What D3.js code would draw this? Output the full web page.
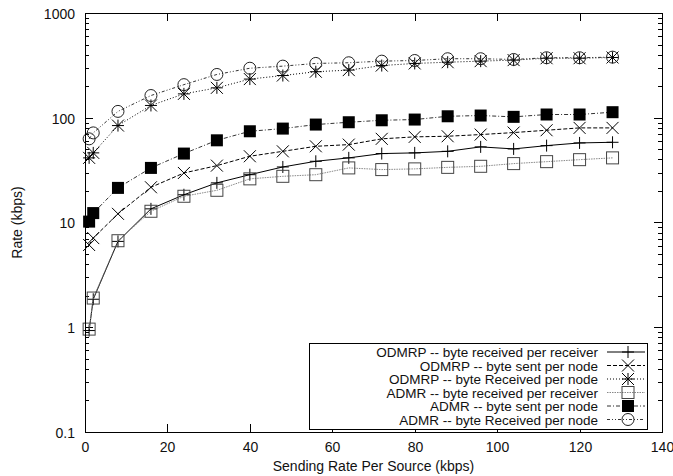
<!DOCTYPE html>
<html>
<head>
<meta charset="utf-8">
<script src="https://cdnjs.cloudflare.com/ajax/libs/d3/7.8.5/d3.min.js"></script>
<style>
  body { margin: 0; background: #fff; }
  text { font-family: "Liberation Sans", Arial, sans-serif; fill: #111; }
</style>
</head>
<body>
<div id="chart"></div>
<script>
var svgWidth = 673;
var svgHeight = 476;

// plot box
var margin = { top: 13, right: 11, bottom: 44, left: 85 };
var width = svgWidth - margin.left - margin.right;
var height = svgHeight - margin.top - margin.bottom;

// data
var xValues = [1, 2, 8, 16, 24, 32, 40, 48, 56, 64, 72, 80, 88, 96, 104, 112, 120, 128];

var odmrpRecvReceiver = [0.93, 1.85, 6.6, 13.5, 18.4, 23.9, 28.6, 33.9, 38.4, 41.4, 45.5, 46.2, 47.8, 52.7, 50.4, 54.2, 57.5, 58.3];
var odmrpSentNode = [6.1, 7.1, 12.1, 21.7, 29.7, 34.9, 42.9, 47.8, 53.4, 55.4, 62.9, 65.7, 66.6, 69.1, 72.2, 76, 80, 80];
var odmrpRecvNode = [41.4, 46.2, 84.2, 131, 169, 193, 234, 253, 275, 285, 315, 330, 339, 347, 355, 370, 370, 376];
var admrRecvReceiver = [0.96, 1.9, 6.7, 12.8, 17.8, 20.3, 26.1, 27.6, 28.6, 33.2, 32, 32.5, 33.6, 34.4, 36.5, 38.1, 39.8, 41.4];
var admrSentNode = [10.2, 12.3, 21.4, 33.2, 45.5, 60.9, 74.3, 78.8, 86.1, 90.6, 94.6, 96.1, 103.3, 105, 102, 107.4, 107.4, 113];
var admrRecvNode = [62.9, 71.7, 115, 163, 207, 259, 297, 311, 330, 335, 347, 352, 366, 366, 360, 374, 374, 379];

var seriesNames = [
  "ODMRP -- byte received per receiver",
  "ODMRP -- byte sent per node",
  "ODMRP -- byte Received per node",
  "ADMR -- byte received per receiver",
  "ADMR -- byte sent per node",
  "ADMR -- byte Received per node"
];

var xTicks = [0, 20, 40, 60, 80, 100, 120, 140];
var yTicks = [0.1, 1, 10, 100, 1000];

var series = [
  { name: seriesNames[0], values: odmrpRecvReceiver, marker: "plus", dash: null, color: "#000" },
  { name: seriesNames[1], values: odmrpSentNode, marker: "cross", dash: "4,2", color: "#000" },
  { name: seriesNames[2], values: odmrpRecvNode, marker: "star", dash: "1,2", color: "#000" },
  { name: seriesNames[3], values: admrRecvReceiver, marker: "square", dash: "1.5,1", color: "#888" },
  { name: seriesNames[4], values: admrSentNode, marker: "fsquare", dash: "4,2,1,2", color: "#333" },
  { name: seriesNames[5], values: admrRecvNode, marker: "circle", dash: "3,2,1,2,1,2", color: "#333" }
];

var svg = d3.select("#chart")
  .append("svg")
  .attr("width", svgWidth)
  .attr("height", svgHeight);

var g = svg.append("g")
  .attr("transform", "translate(" + margin.left + "," + margin.top + ")");

var x = d3.scaleLinear().domain([0, 140]).range([0, width]);
var y = d3.scaleLog().domain([0.1, 1000]).range([height, 0]);

// minor log ticks
var minor = [];
[0.1, 1, 10, 100].forEach(function(d) {
  for (var k = 2; k <= 9; k++) minor.push(d * k);
});

var tickG = g.append("g").attr("stroke", "#000").attr("stroke-width", 1);
minor.forEach(function(v) {
  var yy = Math.round(y(v)) + 0.5;
  tickG.append("line").attr("x1", 0).attr("x2", 4).attr("y1", yy).attr("y2", yy);
  tickG.append("line").attr("x1", width).attr("x2", width - 4).attr("y1", yy).attr("y2", yy);
});
yTicks.forEach(function(v) {
  var yy = Math.round(y(v)) + 0.5;
  tickG.append("line").attr("x1", 0).attr("x2", 8).attr("y1", yy).attr("y2", yy);
  tickG.append("line").attr("x1", width).attr("x2", width - 8).attr("y1", yy).attr("y2", yy);
  g.append("text")
    .attr("x", -10)
    .attr("y", yy + 5)
    .attr("text-anchor", "end")
    .attr("font-size", 14)
    .text(v);
});
xTicks.forEach(function(v) {
  var xx = Math.round(x(v)) + 0.5;
  tickG.append("line").attr("x1", xx).attr("x2", xx).attr("y1", height).attr("y2", height - 8);
  tickG.append("line").attr("x1", xx).attr("x2", xx).attr("y1", 0).attr("y2", 8);
  g.append("text")
    .attr("x", xx)
    .attr("y", height + 20)
    .attr("text-anchor", "middle")
    .attr("font-size", 14)
    .text(v);
});

// axis titles
g.append("text")
  .attr("x", width / 2)
  .attr("y", height + 39)
  .attr("text-anchor", "middle")
  .attr("font-size", 14)
  .text("Sending Rate Per Source (kbps)");

g.append("text")
  .attr("transform", "translate(" + (-63) + "," + (height / 2) + ") rotate(-90)")
  .attr("text-anchor", "middle")
  .attr("font-size", 14)
  .text("Rate (kbps)");

// marker drawing
function drawMarker(sel, type, cx, cy, color) {
  var s = 6;
  if (type == "plus") {
    sel.append("path").attr("d", "M" + (cx - s) + "," + cy + "H" + (cx + s) + "M" + cx + "," + (cy - s) + "V" + (cy + s))
      .attr("stroke", color).attr("fill", "none");
  } else if (type == "cross") {
    sel.append("path").attr("d", "M" + (cx - s) + "," + (cy - s) + "L" + (cx + s) + "," + (cy + s) + "M" + (cx - s) + "," + (cy + s) + "L" + (cx + s) + "," + (cy - s))
      .attr("stroke", color).attr("fill", "none");
  } else if (type == "star") {
    sel.append("path").attr("d", "M" + (cx - s) + "," + cy + "H" + (cx + s) + "M" + cx + "," + (cy - s) + "V" + (cy + s) +
      "M" + (cx - s) + "," + (cy - s) + "L" + (cx + s) + "," + (cy + s) + "M" + (cx - s) + "," + (cy + s) + "L" + (cx + s) + "," + (cy - s))
      .attr("stroke", color).attr("fill", "none");
  } else if (type == "square") {
    sel.append("rect").attr("x", cx - s).attr("y", cy - s).attr("width", 2 * s).attr("height", 2 * s)
      .attr("stroke", "#444").attr("fill", "none");
  } else if (type == "fsquare") {
    sel.append("rect").attr("x", cx - s).attr("y", cy - s).attr("width", 2 * s).attr("height", 2 * s)
      .attr("fill", "#000").attr("stroke", "none");
  } else if (type == "circle") {
    sel.append("circle").attr("cx", cx).attr("cy", cy).attr("r", s)
      .attr("stroke", "#222").attr("fill", "none");
  }
}

var line = d3.line()
  .x(function(d) { return x(d[0]); })
  .y(function(d) { return y(d[1]); });

series.forEach(function(s) {
  var pts = xValues.map(function(xv, i) { return [xv, s.values[i]]; });
  var sg = g.append("g");
  sg.append("path")
    .datum(pts)
    .attr("d", line)
    .attr("fill", "none")
    .attr("stroke", s.color)
    .attr("stroke-width", 1)
    .attr("stroke-dasharray", s.dash);
  pts.forEach(function(p) {
    drawMarker(sg, s.marker, x(p[0]), y(p[1]), s.color == "#888" ? "#444" : "#000");
  });
});

// legend
var legX = 224, legY = 330;
var legend = g.append("g");
legend.append("rect")
  .attr("x", legX + 0.5)
  .attr("y", legY + 0.5)
  .attr("width", 338)
  .attr("height", 86)
  .attr("fill", "#fff")
  .attr("stroke", "#000");

series.forEach(function(s, i) {
  var ly = legY + 9 + i * 13.5;
  legend.append("text")
    .attr("x", legX + 289)
    .attr("y", ly + 5)
    .attr("text-anchor", "end")
    .attr("font-size", 13.5)
    .text(s.name);
  legend.append("line")
    .attr("x1", legX + 298)
    .attr("x2", legX + 336)
    .attr("y1", ly)
    .attr("y2", ly)
    .attr("stroke", s.color)
    .attr("stroke-dasharray", s.dash);
  drawMarker(legend, s.marker, legX + 319, ly, s.color == "#888" ? "#444" : "#000");
});

// border
g.append("rect")
  .attr("x", 0.5)
  .attr("y", 0.5)
  .attr("width", width)
  .attr("height", height)
  .attr("fill", "none")
  .attr("stroke", "#000");
</script>
</body>
</html>
